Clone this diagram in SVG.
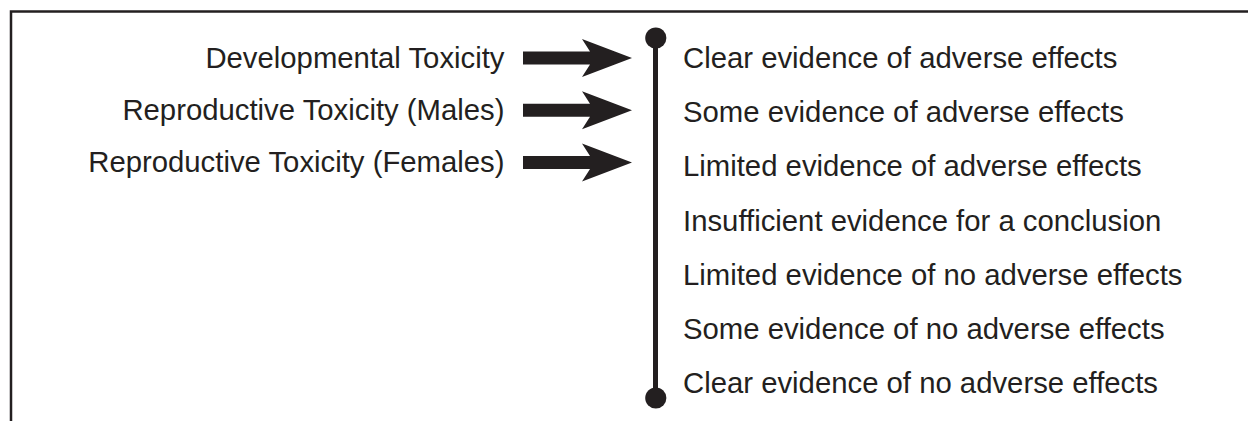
<svg xmlns="http://www.w3.org/2000/svg" width="1248" height="421" viewBox="0 0 1248 421">
<style>
text{font-family:"Liberation Sans",Arial,Helvetica,sans-serif;font-size:29.3px;fill:#231f20}
.l{text-anchor:end}
.arrow{fill:#231f20}
.frame{fill:none;stroke:#231f20;stroke-width:2.5}
</style>
<defs>
<polygon id="arr" points="523,-6.5 590,-6.5 582,-19 632,0 582,19 590,6.5 523,6.5"/>
</defs>
<rect width="1248" height="421" fill="#fff"/>
<path class="frame" d="M11,421 V11.5 H1248"/>
<g id="connectors">
<use href="#arr" class="arrow" y="58"/>
<use href="#arr" class="arrow" y="110.2"/>
<use href="#arr" class="arrow" y="162.4"/>
</g>
<g id="scale">
<line x1="655.5" y1="38" x2="655.5" y2="398" stroke="#231f20" stroke-width="5"/>
<circle cx="655.8" cy="38" r="10.6" fill="#231f20"/>
<circle cx="655.8" cy="398" r="10.6" fill="#231f20"/>
</g>
<g id="inputs">
<text class="l" x="504.5" y="68">Developmental Toxicity</text>
<text class="l" x="504.5" y="120.2">Reproductive Toxicity (Males)</text>
<text class="l" x="504.5" y="172.4">Reproductive Toxicity (Females)</text>
</g>
<g id="levels">
<text x="683" y="67.7">Clear evidence of adverse effects</text>
<text x="683" y="122">Some evidence of adverse effects</text>
<text x="683" y="176.2">Limited evidence of adverse effects</text>
<text x="683" y="230.5">Insufficient evidence for a conclusion</text>
<text x="683" y="284.8">Limited evidence of no adverse effects</text>
<text x="683" y="339">Some evidence of no adverse effects</text>
<text x="683" y="393.3">Clear evidence of no adverse effects</text>
</g>
</svg>
